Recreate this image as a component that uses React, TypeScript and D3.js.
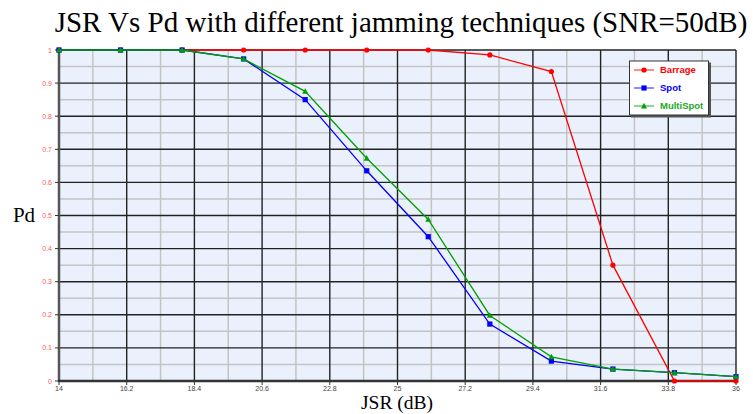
import React from "react";
import * as d3 from "d3";

const jsr = [14, 16, 18, 20, 22, 24, 26, 28, 30, 32, 34, 36];
const barrage = [1, 1, 1, 1, 1, 1, 1, 0.985, 0.935, 0.35, 0, 0];
const spot = [1, 1, 1, 0.973, 0.85, 0.635, 0.436, 0.172, 0.06, 0.036, 0.025, 0.013];
const multiSpot = [1, 1, 1, 0.973, 0.875, 0.673, 0.488, 0.198, 0.073, 0.036, 0.025, 0.013];
const xTicks = [14, 16.2, 18.4, 20.6, 22.8, 25, 27.2, 29.4, 31.6, 33.8, 36];
const yTicks = [0, 0.1, 0.2, 0.3, 0.4, 0.5, 0.6, 0.7, 0.8, 0.9, 1];
const seriesNames = ["Barrage", "Spot", "MultiSpot"];

const W = 753, H = 414;
const L = 59, R = 736, T = 50, B = 381;

export default function App() {
  const x = d3.scaleLinear().domain([14, 36]).range([L, R]);
  const y = d3.scaleLinear().domain([0, 1]).range([B, T]);
  const colors = ["#ff0000", "#0000ff", "#00a000"];
  const data = [barrage, spot, multiSpot];
  const line = d3
    .line<[number, number]>()
    .x((d) => x(d[0]))
    .y((d) => y(d[1]));

  const xMinor = xTicks.slice(0, -1).map((v, i) => (v + xTicks[i + 1]) / 2);
  const yMinor = yTicks.slice(0, -1).map((v, i) => (v + yTicks[i + 1]) / 2);

  const marker = (k: number, cx: number, cy: number, key: string) => {
    const c = colors[k];
    if (k === 0) return <circle key={key} cx={cx} cy={cy} r={2.6} fill={c} />;
    if (k === 1) return <rect key={key} x={cx - 2.6} y={cy - 2.6} width={5.2} height={5.2} fill={c} />;
    return (
      <path
        key={key}
        d={`M${cx},${cy - 3.2}L${cx + 3},${cy + 2.4}L${cx - 3},${cy + 2.4}Z`}
        fill={c}
      />
    );
  };

  return (
    <div style={{ position: "absolute", left: 0, top: 0 }}>
      <svg width={W} height={H} style={{ display: "block" }}>
        <rect x={0} y={0} width={W} height={H} fill="#ffffff" />
        <text
          x={401}
          y={32}
          textAnchor="middle"
          fontFamily="'Liberation Serif', 'Times New Roman', serif"
          fontSize={29}
          fill="#000"
        >
          JSR Vs Pd with different jamming techniques (SNR=50dB)
        </text>
        <rect x={L} y={T} width={R - L} height={B - T} fill="#eaf0fc" />
        {xMinor.map((v, i) => (
          <line key={"xm" + i} x1={x(v)} x2={x(v)} y1={T} y2={B} stroke="#c4c4c4" strokeWidth={1.5} />
        ))}
        {yMinor.map((v, i) => (
          <line key={"ym" + i} x1={L} x2={R} y1={y(v)} y2={y(v)} stroke="#c4c4c4" strokeWidth={1.5} />
        ))}
        {xTicks.map((v, i) => (
          <line key={"xg" + i} x1={x(v)} x2={x(v)} y1={T} y2={B} stroke="#222" strokeWidth={1.4} />
        ))}
        {yTicks.map((v, i) => (
          <line key={"yg" + i} x1={L} x2={R} y1={y(v)} y2={y(v)} stroke="#222" strokeWidth={1.4} />
        ))}
        <line x1={L} x2={L} y1={T} y2={B + 1} stroke="#555" strokeWidth={2.5} />
        <line x1={L - 1} x2={R + 1} y1={B} y2={B} stroke="#333" strokeWidth={2.5} />
        {xTicks.map((v, i) => (
          <g key={"xt" + i}>
            <line x1={x(v)} x2={x(v)} y1={B} y2={B + 4} stroke="#333" strokeWidth={1} />
            <text
              x={x(v)}
              y={391}
              textAnchor="middle"
              fontFamily="'Liberation Sans', Arial, sans-serif"
              fontSize={7}
              fill="#444"
            >
              {String(v)}
            </text>
          </g>
        ))}
        {yTicks.map((v, i) => (
          <g key={"yt" + i}>
            <line x1={L - 4} x2={L} y1={y(v)} y2={y(v)} stroke="#333" strokeWidth={1} />
            <text
              x={L - 7}
              y={y(v) + 2.5}
              textAnchor="end"
              fontFamily="'Liberation Sans', Arial, sans-serif"
              fontSize={7}
              fill="#ff5a5a"
            >
              {String(v)}
            </text>
          </g>
        ))}
        {data.map((s, k) => (
          <g key={"s" + k}>
            <path
              d={line(jsr.map((v, i) => [v, s[i]] as [number, number])) || ""}
              fill="none"
              stroke={colors[k]}
              strokeWidth={1.3}
            />
            {jsr.map((v, i) => marker(k, x(v), y(s[i]), "m" + k + "-" + i))}
          </g>
        ))}
        <text
          x={24}
          y={222}
          textAnchor="middle"
          fontFamily="'Liberation Serif', 'Times New Roman', serif"
          fontSize={21}
          fill="#000"
        >
          Pd
        </text>
        <text
          x={397}
          y={409}
          textAnchor="middle"
          fontFamily="'Liberation Serif', 'Times New Roman', serif"
          fontSize={19.5}
          fill="#000"
        >
          JSR (dB)
        </text>
        <g>
          <rect x={631} y={62.5} width={80} height={55} fill="#555" />
          <rect x={629.5} y={61} width={79} height={54} fill="#ffffff" stroke="#333" strokeWidth={1} />
          {seriesNames.map((n, k) => {
            const ly = 70 + k * 18;
            return (
              <g key={"lg" + k}>
                <line x1={634} x2={654} y1={ly} y2={ly} stroke={colors[k]} strokeOpacity={0.6} strokeWidth={1.5} />
                {marker(k, 644, ly, "lm" + k)}
                <text
                  x={660}
                  y={ly + 3.3}
                  fontFamily="'Liberation Sans', Arial, sans-serif"
                  fontSize={9.5}
                  fontWeight="bold"
                  fill={colors[k] === "#00a000" ? "#22aa22" : colors[k]}
                >
                  {n}
                </text>
              </g>
            );
          })}
        </g>
      </svg>
    </div>
  );
}
